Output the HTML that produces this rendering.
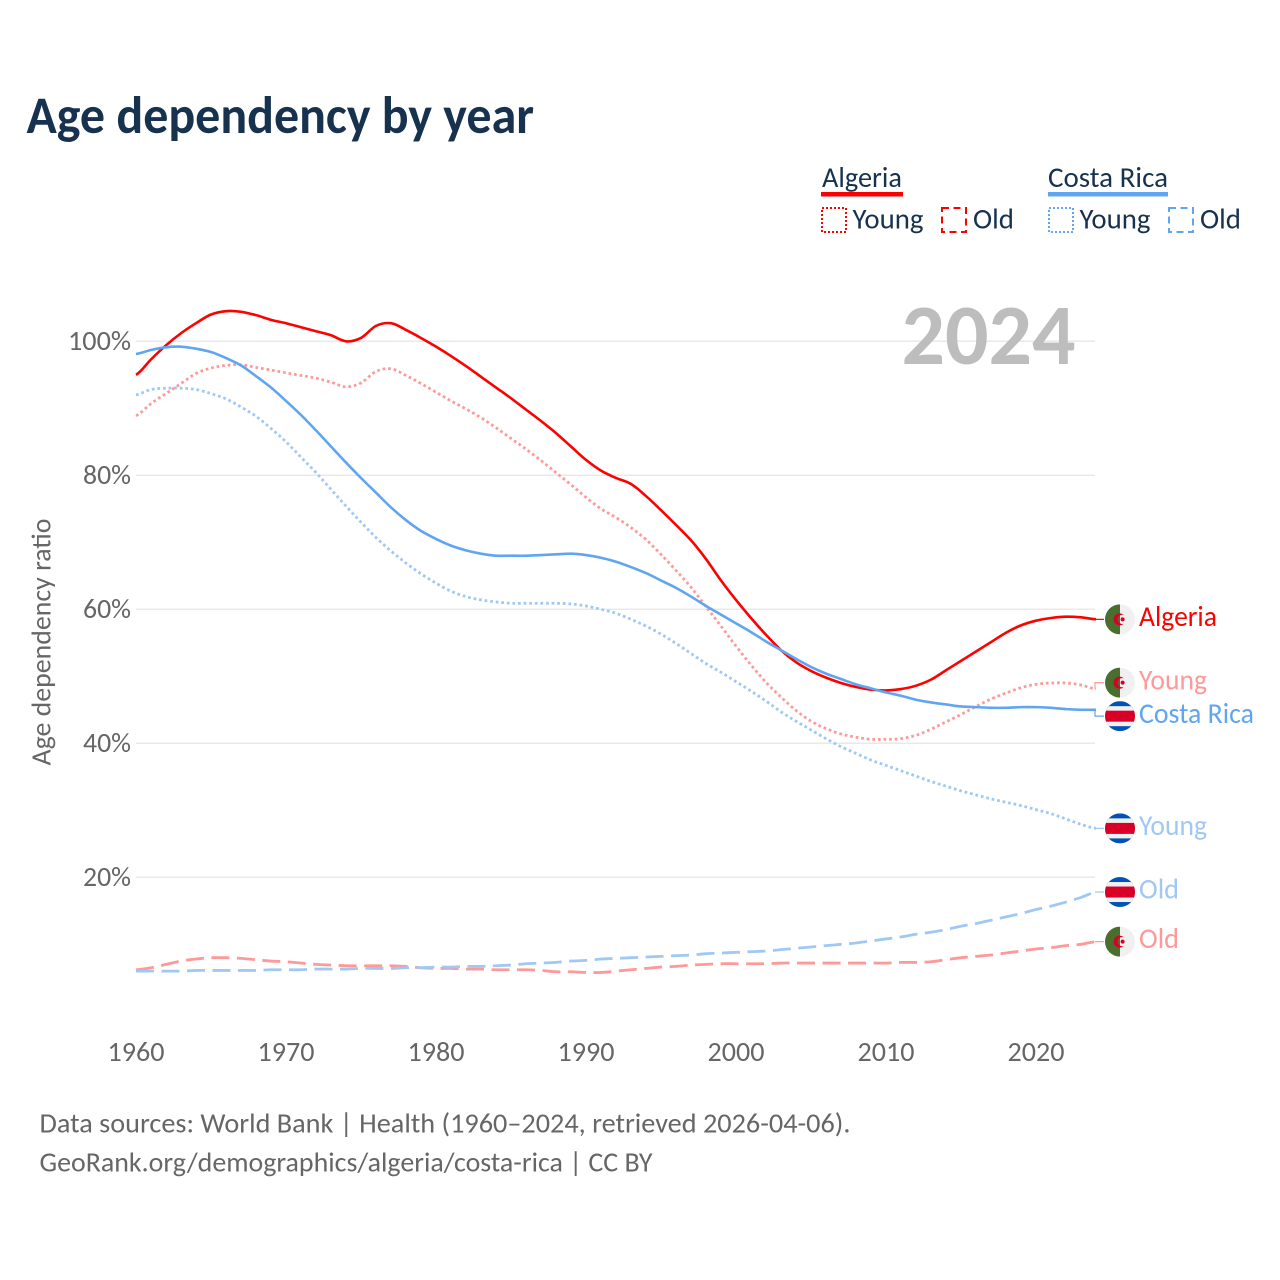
<!DOCTYPE html>
<html lang="en">
<head>
<meta charset="utf-8">
<title>Age dependency by year</title>
<style>
html,body{margin:0;padding:0;background:#fff;}
svg{display:block;font-family:"Carlito","Liberation Sans",sans-serif;}
</style>
</head>
<body>
<svg id="chart" xmlns="http://www.w3.org/2000/svg" width="1280" height="1280" viewBox="0 0 1280 1280">
  <rect width="1280" height="1280" fill="#fff"/>
  <text x="26.5" y="133" font-size="53" font-weight="700" fill="#17324f" textLength="507.5" lengthAdjust="spacingAndGlyphs">Age dependency by year</text>

  <g font-size="28.5" fill="#17324f">
    <text x="822" y="187" textLength="80" lengthAdjust="spacingAndGlyphs">Algeria</text>
    <rect x="821" y="192" width="82" height="4.5" fill="#ff0000"/>
    <rect x="822" y="208" width="24" height="24" fill="none" stroke="#ff0000" stroke-width="2" stroke-dasharray="2 2"/>
    <text x="852.5" y="228.5" textLength="71" lengthAdjust="spacingAndGlyphs">Young</text>
    <rect x="942" y="208" width="24" height="24" fill="none" stroke="#ff0000" stroke-width="2" stroke-dasharray="7 4.5"/>
    <text x="973" y="228.5" textLength="41" lengthAdjust="spacingAndGlyphs">Old</text>
    <text x="1048" y="187" textLength="120" lengthAdjust="spacingAndGlyphs">Costa Rica</text>
    <rect x="1048" y="192" width="120" height="4.5" fill="#60a5f0"/>
    <rect x="1049" y="208" width="24" height="24" fill="none" stroke="#60a5f0" stroke-width="2" stroke-dasharray="2 2"/>
    <text x="1079.5" y="228.5" textLength="71" lengthAdjust="spacingAndGlyphs">Young</text>
    <rect x="1169" y="208" width="24" height="24" fill="none" stroke="#60a5f0" stroke-width="2" stroke-dasharray="7 4.5"/>
    <text x="1200" y="228.5" textLength="41" lengthAdjust="spacingAndGlyphs">Old</text>
  </g>

  <g id="grid"></g>
  <text x="901.5" y="364" font-size="86" font-weight="700" fill="#bdbdbd" textLength="174" lengthAdjust="spacingAndGlyphs">2024</text>
  <g id="yticks" font-size="28" fill="#666"></g>
  <g id="xticks" font-size="28" fill="#666"></g>
  <text transform="translate(50.5 642) rotate(-90)" text-anchor="middle" font-size="28" fill="#666" textLength="247" lengthAdjust="spacingAndGlyphs">Age dependency ratio</text>
  <g id="series"></g>
  <g id="labels" font-size="28.5"></g>

  <text x="39.5" y="1132.5" font-size="28" fill="#666" textLength="811" lengthAdjust="spacingAndGlyphs">Data sources: World Bank | Health (1960–2024, retrieved 2026-04-06).</text>
  <text x="39.5" y="1171.5" font-size="28" fill="#666" textLength="613" lengthAdjust="spacingAndGlyphs">GeoRank.org/demographics/algeria/costa-rica | CC BY</text>
</svg>
<script>
const firstYear = 1960;
const xTickYears = [1960, 1970, 1980, 1990, 2000, 2010, 2020];
const yTickValues = [20, 40, 60, 80, 100];
const algeriaTotal = [95.0,97.3,99.4,101.2,102.7,104.0,104.5,104.4,103.9,103.2,102.7,102.1,101.5,100.9,100.0,100.5,102.3,102.7,101.7,100.5,99.2,97.8,96.3,94.7,93.1,91.5,89.8,88.1,86.3,84.3,82.3,80.7,79.6,78.7,76.9,74.8,72.6,70.3,67.5,64.3,61.4,58.7,56.2,53.9,52.1,50.8,49.8,49.0,48.4,48.0,47.9,48.1,48.6,49.5,50.9,52.3,53.7,55.1,56.5,57.6,58.3,58.7,58.9,58.8,58.5];
const algeriaYoung = [88.9,90.7,92.2,93.7,95.2,96.0,96.4,96.5,96.1,95.7,95.3,94.9,94.5,93.9,93.2,93.8,95.5,95.9,94.9,93.7,92.4,91.1,89.9,88.6,87.1,85.5,83.9,82.2,80.4,78.6,76.7,75.0,73.7,72.2,70.4,68.2,65.8,63.3,60.4,57.5,54.5,51.7,49.1,46.9,44.9,43.3,42.2,41.4,40.9,40.6,40.6,40.7,41.2,42.1,43.2,44.3,45.5,46.6,47.5,48.3,48.8,49.0,49.0,48.7,48.1];
const algeriaOld = [6.2,6.5,7.0,7.5,7.8,8.0,8.0,7.9,7.7,7.5,7.4,7.2,7.0,6.9,6.8,6.8,6.8,6.8,6.7,6.5,6.4,6.4,6.3,6.3,6.2,6.2,6.2,6.1,5.9,5.9,5.8,5.8,6.0,6.2,6.4,6.6,6.7,6.9,7.0,7.1,7.1,7.1,7.1,7.2,7.2,7.2,7.2,7.2,7.2,7.2,7.2,7.3,7.3,7.4,7.7,8.0,8.2,8.4,8.7,9.0,9.3,9.5,9.8,10.0,10.4];
const costaRicaTotal = [98.1,98.7,99.1,99.2,98.9,98.4,97.5,96.4,94.8,93.1,91.1,89.0,86.7,84.3,81.9,79.6,77.4,75.2,73.3,71.7,70.5,69.5,68.8,68.3,68.0,68.0,68.0,68.1,68.2,68.3,68.1,67.7,67.1,66.3,65.4,64.3,63.2,61.9,60.5,59.2,57.9,56.6,55.2,53.9,52.6,51.4,50.4,49.6,48.8,48.2,47.6,47.1,46.5,46.1,45.8,45.5,45.4,45.3,45.3,45.4,45.4,45.3,45.1,45.0,45.0];
const costaRicaYoung = [92.0,92.8,93.0,93.0,92.8,92.2,91.4,90.2,88.8,87.0,85.0,82.7,80.4,77.9,75.4,73.0,70.7,68.7,66.9,65.3,63.9,62.7,61.9,61.4,61.1,60.9,60.9,60.9,60.9,60.8,60.5,60.0,59.4,58.5,57.5,56.3,54.9,53.4,51.9,50.6,49.2,47.8,46.3,44.7,43.3,42.0,40.7,39.5,38.5,37.5,36.7,35.9,35.1,34.3,33.6,32.9,32.3,31.7,31.2,30.7,30.1,29.5,28.7,27.9,27.3];
const costaRicaOld = [6.0,6.0,6.0,6.0,6.1,6.1,6.1,6.1,6.1,6.2,6.2,6.2,6.3,6.3,6.3,6.4,6.4,6.4,6.5,6.5,6.6,6.6,6.7,6.7,6.8,6.9,7.1,7.2,7.3,7.5,7.6,7.8,7.9,8.0,8.1,8.2,8.3,8.4,8.6,8.7,8.8,8.9,9.0,9.2,9.4,9.6,9.8,10.0,10.2,10.5,10.8,11.1,11.5,11.8,12.2,12.7,13.1,13.6,14.1,14.6,15.2,15.7,16.3,17.0,17.8];

const NS = 'http://www.w3.org/2000/svg';
const xScale = function (year) { return 136 + (year - 1960) * 15; };
const yScale = function (value) { return 1011.3 - value * 6.7; };
const RED = '#ff0000', BLUE = '#60a5f0', PINK = '#ff9999', SKY = '#9fc8f4';
const DOT = '2.7 2.9', DASH = '18 7.5';

function make(tag, attrs, parent) {
  const el = document.createElementNS(NS, tag);
  Object.keys(attrs).forEach(function (k) { el.setAttribute(k, attrs[k]); });
  parent.appendChild(el);
  return el;
}

function curvePath(pts) {
  let d = 'M' + pts[0][0] + ',' + pts[0][1].toFixed(2);
  for (let i = 0; i < pts.length - 1; i++) {
    const p0 = pts[Math.max(i - 1, 0)], p1 = pts[i], p2 = pts[i + 1], p3 = pts[Math.min(i + 2, pts.length - 1)];
    const c1y = p1[1] + (p2[1] - p0[1]) / 6, c2y = p2[1] - (p3[1] - p1[1]) / 6;
    const c1x = p1[0] + 5, c2x = p2[0] - 5;
    d += 'C' + c1x + ',' + c1y.toFixed(2) + ' ' + c2x + ',' + c2y.toFixed(2) + ' ' + p2[0] + ',' + p2[1].toFixed(2);
  }
  return d;
}

const gridG = document.getElementById('grid');
const yTickG = document.getElementById('yticks');
const xTickG = document.getElementById('xticks');
const seriesG = document.getElementById('series');
const labelG = document.getElementById('labels');

yTickValues.forEach(function (v) {
  const line = make('line', {x1: 136, x2: 1095, y1: yScale(v), y2: yScale(v), stroke: '#e9e9e9', 'stroke-width': 1.5}, gridG);
  
  
  const t = make('text', {x: 131, y: yScale(v) + 8.7, 'text-anchor': 'end', textLength: (v === 100 ? 63 : 48), lengthAdjust: 'spacingAndGlyphs'}, yTickG);
  
  
  t.textContent = v + '%';
});

xTickYears.forEach(function (y) {
  const t = make('text', {x: xScale(y), y: 1061, 'text-anchor': 'middle', textLength: 57, lengthAdjust: 'spacingAndGlyphs'}, xTickG);
  
  
  t.textContent = y;
});

const seriesList = [
  {key: 'algeria-old', values: algeriaOld, color: PINK, dash: DASH, label: 'Old', flag: 'dz'},
  {key: 'costa-rica-old', values: costaRicaOld, color: SKY, dash: DASH, label: 'Old', flag: 'cr'},
  {key: 'costa-rica-young', values: costaRicaYoung, color: SKY, dash: DOT, label: 'Young', flag: 'cr'},
  {key: 'algeria-young', values: algeriaYoung, color: PINK, dash: DOT, label: 'Young', flag: 'dz'},
  {key: 'algeria-total', values: algeriaTotal, color: RED, dash: '', label: 'Algeria', flag: 'dz'},
  {key: 'costa-rica-total', values: costaRicaTotal, color: BLUE, dash: '', label: 'Costa Rica', flag: 'cr'}
];
const labelWidths = {'Old': 40, 'Young': 68, 'Algeria': 78, 'Costa Rica': 115};

seriesList.forEach(function (s) {
  const pts = s.values.map(function (v, i) { return [xScale(firstYear + i), yScale(v)]; });
  const attrs = {d: curvePath(pts), fill: 'none', stroke: s.color, 'stroke-width': (s.dash ? 2.8 : 2.6), 'stroke-linejoin': 'round'};
  if (s.dash) { attrs['stroke-dasharray'] = s.dash; }
  const path = make('path', attrs, seriesG);
  
  
  s.endY = yScale(s.values[s.values.length - 1]);
  s.labelY = s.endY;
});

/* spread end labels apart when they would collide */
const ordered = seriesList.slice().sort(function (a, b) { return a.endY - b.endY; });
const minGap = 33.5;
for (let pass = 0; pass < 40; pass++) {
  for (let i = 1; i < ordered.length; i++) {
    const overlap = minGap - (ordered[i].labelY - ordered[i - 1].labelY);
    if (overlap > 0) {
      ordered[i - 1].labelY -= overlap / 2;
      ordered[i].labelY += overlap / 2;
    }
  }
}

function drawFlag(kind, cy, key) {
  const cx = 1120, r = 15;
  const g = make('g', {}, labelG);
  
  
  const clipId = 'clip-' + key;
  const clip = make('clipPath', {id: clipId}, g);
  make('circle', {cx: cx, cy: cy, r: r}, clip);
  const inner = make('g', {'clip-path': 'url(#' + clipId + ')'}, g);
  if (kind === 'dz') {
    make('rect', {x: cx - r, y: cy - r, width: r, height: 2 * r, fill: '#496e2d'}, inner);
    make('rect', {x: cx, y: cy - r, width: r, height: 2 * r, fill: '#f0f0f0'}, inner);
    const tip = cx + 3.6;
    make('path', {d: 'M' + tip + ',' + (cy - 4.4) + 'A6,6 0 1 0 ' + tip + ',' + (cy + 4.4) + 'A4.6,4.6 0 1 1 ' + tip + ',' + (cy - 4.4) + 'Z', fill: '#d80027'}, inner);
    make('circle', {cx: cx + 2.6, cy: cy, r: 2, fill: '#d80027'}, inner);
  } else {
    make('rect', {x: cx - r, y: cy - r, width: 2 * r, height: 2 * r, fill: '#0052b4'}, inner);
    make('rect', {x: cx - r, y: cy - 10, width: 2 * r, height: 20, fill: '#f0f0f0'}, inner);
    make('rect', {x: cx - r, y: cy - 5.5, width: 2 * r, height: 11, fill: '#d80027'}, inner);
  }
}

seriesList.forEach(function (s) {
  const stepD = 'M1095,' + s.endY.toFixed(2) + 'V' + s.labelY.toFixed(2) + 'H1104';
  const conn = make('path', {d: stepD, fill: 'none', stroke: s.color, 'stroke-width': 1.2}, labelG);
  
  
  drawFlag(s.flag, s.labelY, s.key);
  const t = make('text', {x: 1139, y: s.labelY + 6.6, fill: s.color, textLength: labelWidths[s.label], lengthAdjust: 'spacingAndGlyphs'}, labelG);
  
  
  t.textContent = s.label;
});
</script>
</body>
</html>
